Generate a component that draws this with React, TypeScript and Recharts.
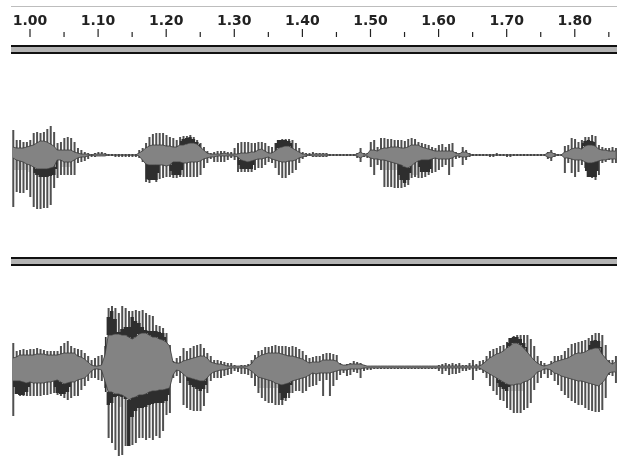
import { Area, Bar, ComposedChart, XAxis, YAxis } from "recharts"

const peakUp1 = [
  25, 15, 15, 13, 13, 15, 22, 23, 22, 23,
  26, 29, 23, 12, 13, 17, 18, 17, 13, 7,
  5, 3, 2, 1, 2, 3, 3, 2, 1, 1,
  1, 1, 1, 1, 1, 1, 1, 5, 7, 12,
  18, 21, 22, 22, 22, 20, 18, 17, 15, 18,
  19, 19, 20, 18, 15, 12, 8, 4, 2, 3,
  4, 4, 4, 3, 3, 7, 12, 13, 13, 13,
  12, 12, 13, 13, 12, 9, 8, 12, 15, 16,
  16, 16, 15, 12, 7, 3, 2, 2, 3, 2,
  2, 2, 2, 1, 1, 1, 1, 1, 1, 1,
  1, 2, 7, 2, 2, 13, 15, 8, 17, 17,
  16, 16, 15, 15, 15, 14, 16, 17, 16, 13,
  12, 11, 10, 8, 7, 10, 11, 8, 11, 12,
  3, 2, 8, 5, 2, 1, 1, 1, 1, 1,
  1, 1, 2, 1, 1, 1, 1, 1, 1, 1,
  1, 1, 1, 1, 1, 1, 1, 3, 5, 2,
  1, 1, 9, 10, 17, 16, 13, 15, 18, 18,
  20, 19, 10, 8, 7, 7, 8, 7,
]
const peakDown1 = [
  -52, -37, -38, -38, -35, -42, -52, -54, -54, -53,
  -53, -50, -33, -23, -20, -20, -20, -20, -20, -8,
  -7, -6, -4, -2, -2, -1, -1, -1, -1, -1,
  -2, -2, -2, -2, -2, -2, -2, -3, -7, -27,
  -28, -25, -27, -24, -23, -22, -22, -23, -23, -22,
  -22, -22, -22, -22, -22, -20, -13, -8, -4, -7,
  -7, -7, -7, -5, -3, -5, -17, -17, -17, -17,
  -17, -15, -13, -13, -10, -7, -8, -13, -20, -23,
  -23, -20, -18, -15, -8, -4, -2, -1, -2, -2,
  -2, -2, -2, -1, -1, -1, -1, -1, -1, -1,
  -1, -3, -7, -2, -3, -12, -20, -10, -15, -32,
  -32, -32, -33, -33, -33, -32, -30, -23, -22, -23,
  -23, -22, -20, -18, -17, -15, -12, -10, -20, -12,
  -4, -3, -10, -5, -2, -1, -1, -1, -1, -1,
  -2, -2, -1, -1, -1, -2, -2, -1, -1, -1,
  -1, -1, -1, -1, -1, -1, -1, -4, -6, -2,
  -1, -1, -18, -8, -18, -22, -17, -10, -13, -22,
  -23, -25, -20, -8, -7, -5, -8, -8,
]
const rmsUp1 = [
  8, 7, 7, 7, 8, 9, 10, 12, 14, 14,
  13, 11, 9, 5, 5, 5, 5, 5, 3, 2,
  1, 1, 1, 0, 1, 1, 1, 1, 0, 0,
  0, 0, 0, 0, 0, 0, 0, 2, 4, 7,
  9, 10, 10, 10, 10, 9, 9, 8, 8, 10,
  10, 11, 12, 12, 11, 8, 5, 2, 1, 1,
  1, 1, 2, 1, 1, 1, 1, 2, 2, 2,
  3, 3, 5, 6, 4, 2, 2, 4, 7, 8,
  9, 9, 7, 5, 3, 1, 1, 0, 1, 1,
  1, 1, 1, 0, 0, 0, 0, 0, 0, 0,
  0, 1, 3, 1, 1, 5, 5, 4, 6, 7,
  7, 8, 8, 8, 7, 7, 8, 10, 10, 10,
  8, 7, 6, 5, 4, 4, 4, 4, 4, 4,
  2, 1, 3, 3, 1, 0, 0, 0, 0, 0,
  0, 0, 0, 0, 0, 0, 0, 0, 0, 0,
  0, 0, 0, 0, 0, 0, 0, 2, 3, 1,
  0, 0, 3, 4, 6, 7, 7, 6, 9, 10,
  10, 9, 6, 5, 5, 4, 4, 4,
]
const rmsDown1 = [
  -3, -5, -6, -7, -9, -10, -12, -14, -14, -14,
  -14, -13, -12, -5, -5, -7, -7, -7, -5, -3,
  -2, -2, -1, 0, -1, -1, -1, -1, 0, 0,
  0, 0, 0, 0, 0, 0, 0, -1, -5, -9,
  -10, -10, -10, -10, -10, -11, -10, -7, -7, -7,
  -8, -8, -7, -7, -7, -6, -4, -3, -2, -2,
  -1, -1, -1, -1, -1, -1, -2, -5, -6, -7,
  -6, -5, -4, -4, -3, -2, -4, -5, -6, -7,
  -7, -6, -6, -5, -3, -2, -1, 0, -1, -1,
  -1, -1, -1, 0, 0, 0, 0, 0, 0, 0,
  0, -1, -3, -1, -1, -3, -4, -4, -5, -5,
  -6, -7, -8, -9, -10, -12, -13, -11, -8, -6,
  -5, -5, -5, -4, -3, -4, -4, -4, -4, -3,
  -1, -1, -2, -2, -1, 0, 0, 0, 0, 0,
  0, 0, 0, 0, 0, 0, 0, 0, 0, 0,
  0, 0, 0, 0, 0, 0, 0, -2, -3, -1,
  0, 0, -3, -3, -4, -5, -5, -5, -7, -8,
  -8, -7, -6, -5, -5, -4, -4, -4,
]
const peakUp2 = [
  24, 16, 17, 18, 17, 18, 18, 19, 18, 17,
  16, 16, 16, 16, 21, 24, 26, 21, 19, 18,
  17, 14, 11, 7, 9, 11, 12, 21, 59, 61,
  59, 54, 61, 59, 56, 56, 57, 56, 57, 54,
  52, 51, 42, 41, 39, 34, 22, 6, 9, 11,
  19, 16, 19, 21, 22, 23, 19, 14, 11, 7,
  7, 6, 5, 4, 4, 2, 1, 2, 2, 3,
  7, 12, 16, 17, 20, 20, 21, 22, 21, 21,
  21, 20, 21, 20, 18, 16, 12, 9, 10, 11,
  11, 13, 14, 14, 13, 12, 4, 2, 3, 4,
  6, 5, 4, 2, 1, 1, 1, 1, 1, 1,
  1, 1, 1, 1, 1, 1, 1, 1, 1, 1,
  1, 1, 1, 1, 1, 2, 3, 4, 3, 4,
  3, 4, 2, 2, 4, 7, 3, 6, 7, 11,
  16, 18, 19, 21, 22, 25, 28, 31, 32, 32,
  32, 32, 28, 21, 11, 6, 4, 2, 6, 11,
  11, 12, 16, 19, 23, 24, 25, 26, 27, 29,
  32, 34, 34, 32, 22, 7, 7, 11,
]
const peakDown2 = [
  -49, -21, -29, -29, -29, -29, -29, -29, -29, -28,
  -28, -27, -26, -28, -29, -31, -33, -31, -29, -29,
  -23, -19, -14, -11, -11, -13, -14, -21, -71, -76,
  -83, -89, -88, -79, -79, -78, -76, -71, -71, -73,
  -71, -73, -69, -71, -64, -48, -46, -11, -9, -16,
  -38, -41, -43, -44, -44, -44, -39, -26, -14, -11,
  -11, -11, -9, -8, -7, -4, -5, -7, -7, -8,
  -11, -19, -26, -31, -34, -36, -36, -38, -38, -38,
  -34, -31, -26, -24, -24, -26, -24, -20, -19, -18,
  -14, -29, -13, -29, -19, -13, -8, -6, -9, -8,
  -5, -6, -11, -4, -3, -3, -2, -2, -2, -2,
  -2, -2, -2, -2, -2, -2, -2, -2, -2, -2,
  -2, -2, -2, -2, -2, -4, -7, -4, -8, -7,
  -7, -6, -4, -4, -3, -13, -4, -3, -6, -11,
  -19, -24, -28, -33, -34, -41, -43, -46, -46, -46,
  -43, -41, -36, -23, -16, -11, -7, -11, -8, -14,
  -18, -24, -28, -31, -34, -36, -38, -38, -41, -43,
  -44, -45, -45, -43, -31, -8, -9, -16,
]
const rmsUp2 = [
  9, 10, 12, 12, 12, 12, 12, 13, 13, 13,
  12, 12, 12, 12, 13, 14, 14, 14, 14, 11,
  10, 8, 5, 2, 1, 1, 2, 12, 32, 32,
  33, 33, 32, 32, 30, 28, 30, 33, 34, 34,
  32, 30, 30, 28, 27, 25, 21, 5, 4, 4,
  6, 7, 8, 9, 10, 11, 11, 9, 5, 4,
  3, 3, 2, 1, 1, 1, 1, 1, 1, 1,
  3, 8, 10, 12, 13, 14, 14, 14, 14, 13,
  12, 11, 11, 10, 9, 8, 6, 4, 5, 5,
  5, 7, 7, 7, 7, 6, 3, 2, 2, 3,
  3, 3, 3, 2, 1, 1, 1, 1, 1, 1,
  1, 1, 1, 1, 1, 1, 1, 1, 1, 1,
  1, 1, 1, 1, 1, 1, 1, 1, 1, 1,
  1, 1, 1, 1, 1, 1, 1, 1, 3, 6,
  9, 11, 13, 14, 16, 19, 21, 24, 24, 22,
  19, 15, 11, 7, 4, 2, 1, 2, 3, 5,
  6, 7, 8, 9, 11, 13, 14, 14, 15, 17,
  18, 19, 19, 13, 9, 5, 3, 5,
]
const rmsDown2 = [
  -14, -14, -14, -15, -16, -15, -16, -16, -16, -16,
  -15, -15, -14, -13, -15, -17, -16, -15, -15, -13,
  -12, -11, -8, -4, -2, -2, -3, -14, -25, -25,
  -27, -27, -28, -30, -33, -31, -30, -28, -28, -27,
  -25, -24, -24, -23, -23, -22, -21, -8, -3, -4,
  -7, -10, -11, -12, -13, -14, -14, -11, -7, -5,
  -4, -3, -3, -2, -1, -1, -1, -1, -1, -2,
  -4, -7, -10, -11, -12, -13, -14, -16, -17, -18,
  -17, -16, -14, -13, -12, -11, -10, -8, -6, -7,
  -6, -6, -6, -6, -5, -4, -3, -3, -3, -2,
  -2, -2, -2, -1, -1, -1, -1, -1, -1, -1,
  -1, -1, -1, -1, -1, -1, -1, -1, -1, -1,
  -1, -1, -1, -1, -1, -1, -1, -1, -1, -1,
  -1, -1, -1, -1, -1, -1, -1, -1, -3, -5,
  -7, -9, -11, -13, -15, -17, -18, -18, -17, -17,
  -15, -14, -12, -9, -5, -4, -2, -2, -3, -6,
  -7, -9, -10, -11, -12, -13, -14, -14, -15, -16,
  -17, -18, -19, -16, -12, -6, -5, -5,
]

// dark and pale patches next to the grey body: [sample number, amplitude]
const darkUpper1 = [[49, 14], [50, 16], [51, 17], [52, 18], [53, 16], [54, 13], [55, 11], [77, 12], [78, 15], [79, 15], [80, 15], [81, 14], [82, 12], [167, 12], [168, 14], [169, 15], [170, 14], [171, 13]]
const darkLower1 = [[6, -18], [7, -20], [8, -22], [9, -22], [10, -22], [11, -21], [12, -20], [13, -14], [39, -24], [40, -25], [41, -25], [42, -25], [43, -18], [46, -16], [47, -20], [48, -20], [49, -20], [50, -15], [66, -10], [67, -14], [68, -14], [69, -14], [70, -14], [71, -10], [113, -20], [114, -25], [115, -28], [116, -25], [117, -18], [119, -12], [120, -17], [121, -17], [122, -17], [123, -14], [168, -16], [169, -22], [170, -22], [171, -22], [172, -16]]
const lightLower1 = [[0, -15], [1, -15], [2, -15], [3, -15], [4, -15], [5, -17], [14, -12], [15, -12], [16, -12], [17, -12], [108, -15], [109, -15], [110, -15], [111, -15], [112, -15], [113, -15], [117, -20], [118, -20], [119, -20]]
const darkUpper2 = [[27, 30], [28, 50], [29, 56], [30, 48], [31, 35], [32, 38], [33, 40], [34, 40], [35, 50], [36, 46], [37, 44], [38, 40], [39, 37], [40, 36], [41, 36], [42, 36], [43, 35], [44, 34], [45, 30], [145, 24], [146, 29], [147, 30], [148, 30], [149, 28], [150, 24], [151, 20], [169, 22], [170, 26], [171, 27], [172, 26], [173, 20]]
const darkLower2 = [[0, -20], [1, -27], [2, -28], [3, -28], [4, -25], [5, -20], [12, -20], [13, -26], [14, -27], [15, -27], [16, -25], [17, -20], [27, -25], [28, -38], [29, -36], [30, -30], [31, -29], [32, -30], [33, -32], [34, -79], [35, -50], [36, -44], [37, -41], [38, -41], [39, -40], [40, -38], [41, -37], [42, -36], [43, -36], [44, -36], [45, -34], [46, -28], [51, -14], [52, -18], [53, -20], [54, -22], [55, -24], [56, -22], [57, -18], [78, -26], [79, -33], [80, -31], [81, -26], [82, -18], [142, -16], [143, -20], [144, -22], [145, -24], [146, -20]]
const lightLower2 = [[31, -40], [32, -40], [51, -16], [52, -16], [53, -16], [54, -16], [55, -16], [72, -21], [73, -21], [74, -21], [75, -21], [76, -21], [77, -21], [78, -21], [146, -24], [147, -24], [148, -24], [149, -24], [150, -24]]

const rulerTicks = [1.0, 1.05, 1.1, 1.15, 1.2, 1.25, 1.3, 1.35, 1.4, 1.45, 1.5, 1.55, 1.6, 1.65, 1.7, 1.75, 1.8, 1.85]
const timeDomain = [0.9721, 1.862]

const buildRows = (up: number[], down: number[], bodyUp: number[], bodyDown: number[], darkUp: number[][], darkDown: number[][], lightDown: number[][]) => {
  const darkUpAt = new Map(darkUp.map(([i, a]) => [i, a]))
  const darkDownAt = new Map(darkDown.map(([i, a]) => [i, a]))
  const lightDownAt = new Map(lightDown.map(([i, a]) => [i, a]))
  return up.map((value, i) => ({
    time: Number((0.975 + 0.005 * i).toFixed(3)),
    peak: [down[i], value],
    body: [bodyDown[i], bodyUp[i]],
    darkUp: darkUpAt.has(i) ? [bodyUp[i], darkUpAt.get(i)] : null,
    darkDown: darkDownAt.has(i) ? [darkDownAt.get(i), bodyDown[i]] : null,
    lightDown: lightDownAt.has(i) ? [lightDownAt.get(i), bodyDown[i]] : null,
  }))
}

const channel1 = buildRows(peakUp1, peakDown1, rmsUp1, rmsDown1, darkUpper1, darkLower1, lightLower1)
const channel2 = buildRows(peakUp2, peakDown2, rmsUp2, rmsDown2, darkUpper2, darkLower2, lightLower2)

function RulerTick({ x, y, payload }: any) {
  const major = Math.round(payload.value * 100) % 10 === 0
  return (
    <g>
      <line x1={x} x2={x} y1={y - (major ? 8 : 5)} y2={y} stroke="#222" strokeWidth={1.2} />
      {major && (
        <text x={x} y={y - 12} textAnchor="middle" fontFamily="DejaVu Sans" fontSize={14} fontWeight={700} fill="#222">
          {payload.value.toFixed(2)}
        </text>
      )}
    </g>
  )
}

function TrackHeader({ top }: { top: number }) {
  return (
    <div style={{ position: "absolute", left: 11, top, width: 606, height: 9, background: "#b4b4b4", borderTop: "2px solid #111", borderBottom: "2px solid #111", boxSizing: "border-box" }} />
  )
}

function Waveform({ rows, height, domain, withRuler }: { rows: any[]; height: number; domain: number[]; withRuler?: boolean }) {
  const margin = { top: 0, right: 2, bottom: 0, left: 11 }
  return (
    <div style={{ position: "relative", width: 619, height }}>
      {/* spikes go in their own chart, below the body, because recharts paints bars over areas */}
      <div style={{ position: "absolute", left: 0, top: 0 }}>
        <ComposedChart width={619} height={height} data={rows} margin={margin}>
          <XAxis
            dataKey="time"
            type="number"
            domain={timeDomain}
            allowDataOverflow
            orientation="top"
            ticks={rulerTicks}
            interval={0}
            height={withRuler ? 45 : 0}
            hide={!withRuler}
            axisLine={false}
            tickLine={false}
            tick={<RulerTick />}
          />
          <YAxis hide domain={domain} allowDataOverflow />
          <Area dataKey="lightDown" type="step" fill="#d0d0d0" fillOpacity={1} stroke="none" isAnimationActive={false} dot={false} activeDot={false} />
          <Bar dataKey="peak" barSize={2} fill="#505050" isAnimationActive={false} />
        </ComposedChart>
      </div>
      <div style={{ position: "absolute", left: 0, top: 0 }}>
        <ComposedChart width={619} height={height} data={rows} margin={margin}>
          <XAxis
            dataKey="time"
            type="number"
            domain={timeDomain}
            allowDataOverflow
            orientation="top"
            height={withRuler ? 45 : 0}
            hide={!withRuler}
            axisLine={false}
            tickLine={false}
            tick={false}
          />
          <YAxis hide domain={domain} allowDataOverflow />
          <Area dataKey="darkUp" type="step" fill="#2e2e2e" fillOpacity={1} stroke="none" isAnimationActive={false} dot={false} activeDot={false} />
          <Area dataKey="darkDown" type="step" fill="#2e2e2e" fillOpacity={1} stroke="none" isAnimationActive={false} dot={false} activeDot={false} />
          <Area dataKey="body" type="linear" fill="#838383" fillOpacity={1} stroke="#3a3a3a" strokeWidth={0.8} isAnimationActive={false} dot={false} activeDot={false} />
        </ComposedChart>
      </div>
    </div>
  )
}

export default function App() {
  return (
    <div style={{ position: "absolute", left: 0, top: 0, width: 619, height: 456, background: "#fff", overflow: "hidden", filter: "blur(0.35px)" }}>
      <div style={{ position: "absolute", left: 11, top: 6, width: 606, height: 1, background: "#bdbdbd" }} />
      <div style={{ position: "absolute", left: 0, top: 0 }}>
        <Waveform rows={channel1} height={256} domain={[-101, 110]} withRuler />
      </div>
      <TrackHeader top={45} />
      <TrackHeader top={257} />
      <div style={{ position: "absolute", left: 0, top: 268 }}>
        <Waveform rows={channel2} height={188} domain={[-89, 99]} />
      </div>
    </div>
  )
}
